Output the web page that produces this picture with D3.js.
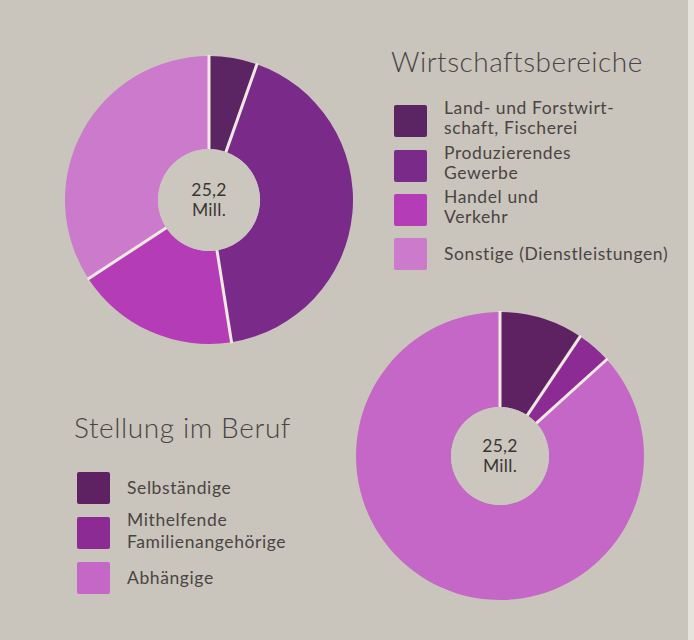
<!DOCTYPE html>
<html>
<head>
<meta charset="utf-8">
<script src="https://cdn.jsdelivr.net/npm/d3@7"></script>
<style>
  html, body { margin: 0; padding: 0; background: #c9c5bd; }
  svg { display: block; }
</style>
</head>
<body>
<script>
const width = 694;
const height = 640;

// Wirtschaftsbereiche (share in %)
const sectorLabels = [
  ["Land- und Forstwirt-", "schaft, Fischerei"],
  ["Produzierendes", "Gewerbe"],
  ["Handel und", "Verkehr"],
  ["Sonstige (Dienstleistungen)"]
];
const sectorValues = [5.4, 42.1, 18.3, 34.2];
const sectorColors = ["#5b2463", "#7a2a88", "#b53cb7", "#cc7bcc"];

// Stellung im Beruf (share in %)
const jobLabels = [
  ["Selbständige"],
  ["Mithelfende", "Familienangehörige"],
  ["Abhängige"]
];
const jobValues = [9.4, 3.9, 86.7];
const jobColors = ["#5e2262", "#8c2b93", "#c567c6"];

const centerText = ["25,2", "Mill."];

const font = "Lato, 'Open Sans', sans-serif";
const textColor = "#4a4443";
const sepColor = "#f1e9e1";

const svg = d3.select("body")
  .append("svg")
  .attr("width", width)
  .attr("height", height);

svg.append("rect")
  .attr("width", width)
  .attr("height", height)
  .attr("fill", "#c9c5bd");

// light edge of the page at right
svg.append("rect")
  .attr("x", 688).attr("y", 0)
  .attr("width", 6).attr("height", height)
  .attr("fill", "#e6e3dd");

function donut(values, colors, cx, cy, r0, r1) {
  const pie = d3.pie().sort(null).value(d => d)(values);
  const arc = d3.arc().innerRadius(r0).outerRadius(r1);
  const g = svg.append("g").attr("transform", `translate(${cx},${cy})`);

  g.selectAll("path.slice")
    .data(pie)
    .join("path")
    .attr("class", "slice")
    .attr("d", arc)
    .attr("fill", (d, i) => colors[i]);

  // separators at the start of every slice
  g.selectAll("line.sep")
    .data(pie)
    .join("line")
    .attr("class", "sep")
    .attr("x1", d => Math.sin(d.startAngle) * (r0 - 1))
    .attr("y1", d => -Math.cos(d.startAngle) * (r0 - 1))
    .attr("x2", d => Math.sin(d.startAngle) * (r1 + 1))
    .attr("y2", d => -Math.cos(d.startAngle) * (r1 + 1))
    .attr("stroke", sepColor)
    .attr("stroke-width", 3);

  g.append("circle")
    .attr("r", r0)
    .attr("fill", "#cbc7bf");

  g.selectAll("text.center")
    .data(centerText)
    .join("text")
    .attr("class", "center")
    .attr("text-anchor", "middle")
    .attr("y", (d, i) => -4 + i * 20)
    .attr("font-family", font)
    .attr("font-size", 17.5)
    .attr("letter-spacing", 0.3)
    .attr("fill", "#3b3636")
    .text(d => d);
}

donut(sectorValues, sectorColors, 209, 200, 51, 144);
donut(jobValues, jobColors, 500, 456, 49, 144);

function legend(title, tx, ty, titleSize, titleSpacing, labels, colors, sx, sy, lineH, offsets) {
  svg.append("text")
    .attr("x", tx)
    .attr("y", ty)
    .attr("font-family", font)
    .attr("font-weight", 300)
    .attr("font-size", titleSize)
    .attr("letter-spacing", titleSpacing)
    .attr("fill", textColor)
    .text(title);

  const items = svg.selectAll(null)
    .data(labels)
    .join("g")
    .attr("transform", (d, i) => `translate(${sx},${sy + offsets[i]})`);

  items.append("rect")
    .attr("width", 33)
    .attr("height", 32)
    .attr("rx", 2)
    .attr("fill", (d, i) => colors[i]);

  items.selectAll("text")
    .data(d => d.map((t, j) => ({ t, j, n: d.length })))
    .join("text")
    .attr("x", 50)
    .attr("y", d => d.n === 1 ? 22 : 9 + d.j * lineH)
    .attr("font-family", font)
    .attr("font-size", 17.5)
    .attr("letter-spacing", 0.6)
    .attr("fill", textColor)
    .text(d => d.t);
}

legend("Wirtschaftsbereiche", 391, 72, 28, 0.5, sectorLabels, sectorColors,
  394, 105, 20, [0, 45, 89, 133]);
legend("Stellung im Beruf", 74, 438, 28, 0.6, jobLabels, jobColors,
  77, 472, 22, [0, 45, 90]);
</script>
</body>
</html>
